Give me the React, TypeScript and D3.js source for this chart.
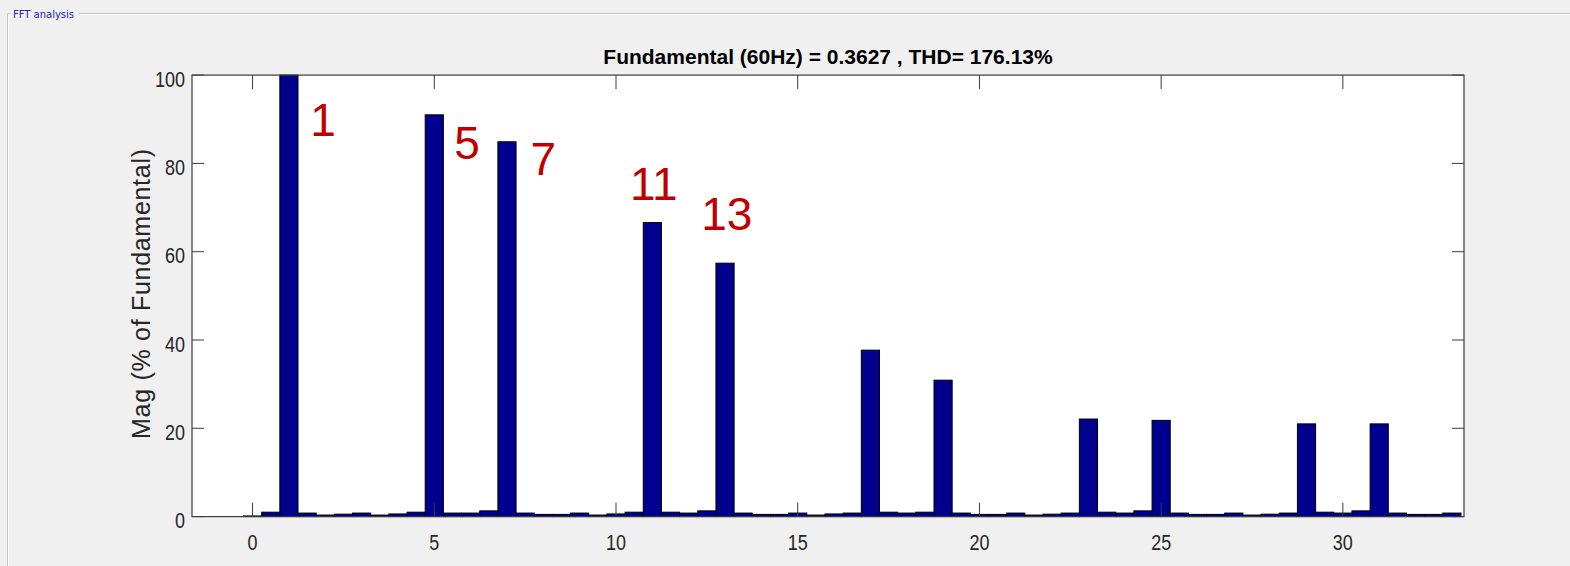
import React from "react";
import * as d3 from "d3";

// Harmonic order of each FFT bin (half-harmonic resolution, 0 .. 33)
const harmonicOrder: number[] = [
  0, 0.5, 1, 1.5, 2, 2.5, 3, 3.5, 4, 4.5, 5, 5.5, 6, 6.5, 7, 7.5, 8, 8.5, 9, 9.5,
  10, 10.5, 11, 11.5, 12, 12.5, 13, 13.5, 14, 14.5, 15, 15.5, 16, 16.5, 17, 17.5,
  18, 18.5, 19, 19.5, 20, 20.5, 21, 21.5, 22, 22.5, 23, 23.5, 24, 24.5, 25, 25.5,
  26, 26.5, 27, 27.5, 28, 28.5, 29, 29.5, 30, 30.5, 31, 31.5, 32, 32.5, 33,
];

// Magnitude of each bin, % of fundamental
const magnitude: number[] = [
  0.15, 1.0, 100, 0.8, 0.35, 0.55, 0.8, 0.35, 0.6, 1.0, 91.0, 0.8, 0.8, 1.3, 84.9, 0.8,
  0.5, 0.5, 0.8, 0.35, 0.6, 1.0, 66.6, 1.0, 0.8, 1.3, 57.4, 0.8, 0.5, 0.5, 0.8, 0.35,
  0.6, 0.8, 37.7, 1.0, 0.8, 1.0, 30.9, 0.8, 0.5, 0.5, 0.8, 0.35, 0.55, 0.8, 22.1, 1.0,
  0.8, 1.3, 21.8, 0.8, 0.5, 0.5, 0.8, 0.35, 0.55, 0.8, 21.0, 1.0, 0.8, 1.3, 21.0, 0.8,
  0.5, 0.5, 0.8,
];

const xTicks: number[] = [0, 5, 10, 15, 20, 25, 30];
const yTicks: number[] = [0, 20, 40, 60, 80, 100];

// Red annotations naming the dominant harmonics (anchor in data units)
const annotText: string[] = ["1", "5", "7", "11", "13"];
const annotX: number[] = [1.94, 5.9, 8.0, 11.04, 13.05];
const annotY: number[] = [86.2, 81.0, 77.4, 71.7, 65.0];

const titleText = "Fundamental (60Hz) = 0.3627 , THD= 176.13%";
const yLabel = "Mag (% of Fundamental)";
const panelTitle = "FFT analysis";

const W = 1570;
const H = 566;
const plot = { left: 192, right: 1464, top: 75.1, bottom: 516.6 };

export default function App() {
  const x = d3.scaleLinear().domain([-5 / 3, 100 / 3]).range([plot.left, plot.right]);
  const y = d3.scaleLinear().domain([0, 100]).range([plot.bottom, plot.top]);
  const binW = x(0.5) - x(0);
  const axisColor = "#3a3a3a";
  const textColor = "#262626";
  const font = "'Liberation Sans', Arial, sans-serif";
  const digitW = 10; // narrow tick-label digits

  return (
    <svg
      width={W}
      height={H}
      style={{ position: "absolute", left: 0, top: 0, display: "block" }}
      fontFamily={font}
    >
      <rect x={0} y={0} width={W} height={H} fill="#f0f0f0" />
      {/* panel frame */}
      <path d={`M7.5,${H} V13.5 H11`} fill="none" stroke="#c4c4c4" />
      <path d={`M8.5,${H} V14.5 H11`} fill="none" stroke="#ffffff" />
      <path d={`M79,13.5 H${W}`} fill="none" stroke="#c4c4c4" />
      <path d={`M79,14.5 H${W}`} fill="none" stroke="#ffffff" />
      <text x={13} y={18} fontSize={11} fill="#2222bb" fontFamily="'DejaVu Sans Condensed', 'Liberation Sans', sans-serif" textLength={61} lengthAdjust="spacingAndGlyphs">
        {panelTitle}
      </text>

      {/* plot area */}
      <rect
        x={plot.left}
        y={plot.top}
        width={plot.right - plot.left}
        height={plot.bottom - plot.top}
        fill="#ffffff"
      />

      {/* bars */}
      {harmonicOrder.map((h, i) => {
        const y0 = y(0);
        const y1 = y(magnitude[i]);
        return (
          <rect
            key={i}
            x={x(h) - binW / 2}
            y={y1}
            width={binW}
            height={Math.max(y0 - y1, 0.5)}
            fill="#00008f"
            stroke="#000000"
            strokeWidth={1}
          />
        );
      })}

      {/* ticks */}
      {xTicks.map((t) => (
        <g key={`xt${t}`}>
          <line x1={x(t)} x2={x(t)} y1={plot.bottom} y2={plot.bottom - 14} stroke={axisColor} />
          <line x1={x(t)} x2={x(t)} y1={plot.top} y2={plot.top + 14} stroke={axisColor} />
          <text
            x={x(t)}
            y={plot.bottom + 33.5}
            fontSize={22}
            textAnchor="middle"
            fill={textColor}
            textLength={digitW * String(t).length}
            lengthAdjust="spacingAndGlyphs"
          >
            {t}
          </text>
        </g>
      ))}
      {yTicks.map((t) => (
        <g key={`yt${t}`}>
          <line x1={plot.left} x2={plot.left + 12} y1={y(t)} y2={y(t)} stroke={axisColor} />
          <line x1={plot.right} x2={plot.right - 12} y1={y(t)} y2={y(t)} stroke={axisColor} />
          <text
            x={plot.left - 7}
            y={y(t) + 11.5}
            fontSize={22}
            textAnchor="end"
            fill={textColor}
            textLength={digitW * String(t).length}
            lengthAdjust="spacingAndGlyphs"
          >
            {t}
          </text>
        </g>
      ))}

      {/* axes box */}
      <rect
        x={plot.left}
        y={plot.top}
        width={plot.right - plot.left}
        height={plot.bottom - plot.top}
        fill="none"
        stroke={axisColor}
        strokeWidth={1.2}
      />

      {/* annotations */}
      {annotText.map((s, i) => (
        <text
          key={`a${i}`}
          x={x(annotX[i])}
          y={y(annotY[i])}
          fontSize={46}
          textAnchor="middle"
          fill="#c00000"
        >
          {s}
        </text>
      ))}

      {/* title */}
      <text
        x={(plot.left + plot.right) / 2}
        y={64}
        fontSize={21}
        fontWeight="bold"
        textAnchor="middle"
        fill="#000000"
      >
        {titleText}
      </text>

      {/* y label */}
      <text
        transform={`translate(150,294) rotate(-90)`}
        fontSize={25}
        textAnchor="middle"
        fill={textColor}
        textLength={290}
        lengthAdjust="spacing"
      >
        {yLabel}
      </text>
    </svg>
  );
}
